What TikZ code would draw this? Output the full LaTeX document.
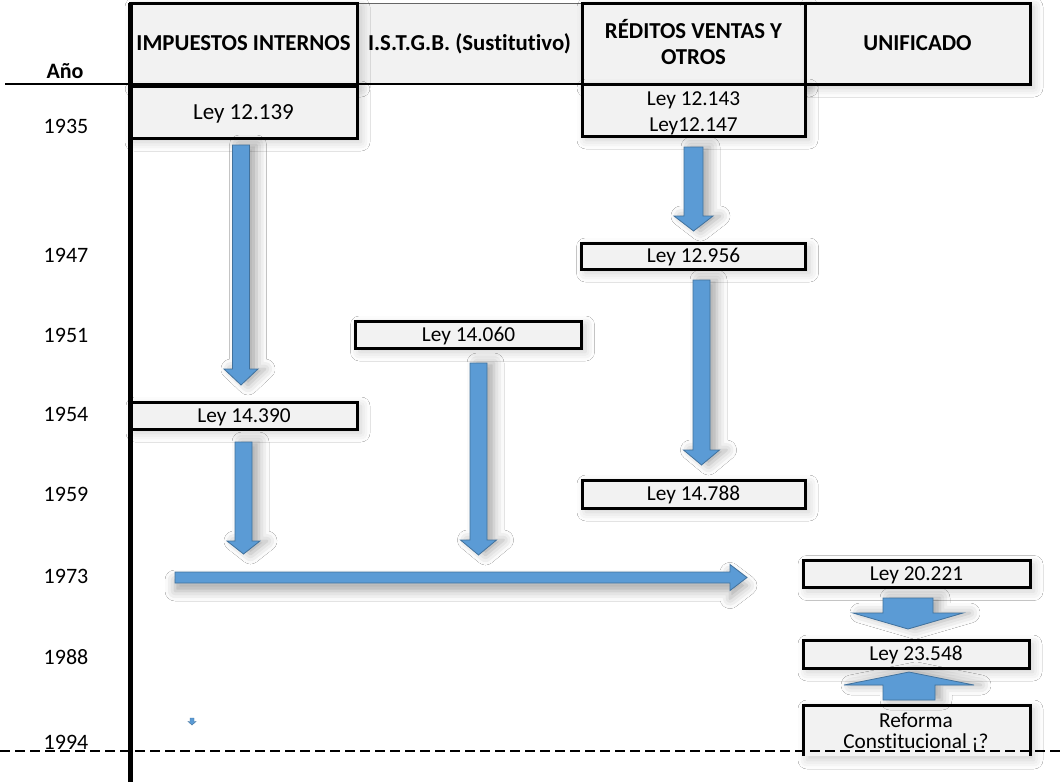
\documentclass[tikz,border=0pt]{standalone}
\usepackage{fontspec}
\setmainfont{Carlito}[Ligatures=NoCommon]
\usetikzlibrary{shadows.blur}
\definecolor{arrowfill}{HTML}{5B9BD5}
\definecolor{arrowedge}{HTML}{41719C}

% vertical block arrow: x, tail y, head-base y, tip y, shaft half width, head half width
\newcommand\vblock[6]{%
  \path[blockarrow,blur shadow={shadow xshift=7pt,shadow yshift=0pt,shadow blur radius=10pt,shadow opacity=34}]
    (#1-#5,#2) -- (#1+#5,#2) -- (#1+#5,#3) -- (#1+#6,#3) -- (#1,#4)
    -- (#1-#6,#3) -- (#1-#5,#3) -- cycle;}
% horizontal block arrow: y, tail x, head-base x, tip x, shaft half height, head half height
\newcommand\hblock[6]{%
  \path[blockarrow,blur shadow={shadow xshift=0pt,shadow yshift=-8pt,shadow blur radius=10pt,shadow opacity=34}]
    (#2,#1-#5) -- (#3,#1-#5) -- (#3,#1-#6) -- (#4,#1) -- (#3,#1+#6)
    -- (#3,#1+#5) -- (#2,#1+#5) -- cycle;}

\tikzset{
  blockarrow/.style={fill=arrowfill,draw=arrowedge,line width=0.8pt,line join=miter},
  lawbox/.style={draw=black,line width=3pt,fill=black!5,inner sep=0pt,
    font=\fontsize{21.3}{26}\selectfont,text height=13.5pt,text depth=0pt,
    blur shadow={shadow xshift=4pt,shadow yshift=-4pt,shadow blur radius=9pt,shadow opacity=20}},
  headbox/.style={lawbox,font=\bfseries\fontsize{22.8}{26}\selectfont,text height=14.4pt},
  plaintext/.style={inner sep=0pt,text height=13.5pt,text depth=0pt,font=\fontsize{21.3}{26}\selectfont},
  headtext/.style={plaintext,font=\bfseries\fontsize{22.8}{26}\selectfont,text height=14.4pt},
  yearlbl/.style={plaintext,font=\fontsize{22}{24}\selectfont,text height=13.9pt},
}

\begin{document}
\begin{tikzpicture}[x=1pt,y=-1pt]
\fill[white] (0,0) rectangle (1064,782);
\useasboundingbox (0,0) rectangle (1064,782);

% table frame
\fill[black!5] (357,3) rectangle (582,84);
\draw[black!60,line width=1pt] (130,3) -- (1030,3);
\draw[line width=2pt] (5,84) -- (1030,84);
\draw[line width=2.5pt] (357,3) -- (357,84);
\draw[line width=2.5pt] (582,3) -- (582,84);

% column headers
\node[headbox,minimum width=227pt,minimum height=81pt] (hii) at (243.5,43.5) {IMPUESTOS INTERNOS};
\node[headtext] (hist) at (469.5,43.5) {I.S.T.G.B. (Sustitutivo)};
\node[headbox,minimum width=223pt,minimum height=81pt] (hrv) at (693.5,43.5) {};
\node[headtext] (hrv1) at (693.5,31) {RÉDITOS VENTAS Y};
\node[headtext] (hrv2) at (693.5,57) {OTROS};
\node[headbox,minimum width=225pt,minimum height=81pt] (hun) at (917.5,43.5) {UNIFICADO};

% laws
\node[lawbox,minimum width=227pt,minimum height=52pt,font=\fontsize{23}{26}\selectfont,text height=14.5pt] (l12139) at (243.5,112) {Ley 12.139};
\node[lawbox,minimum width=223pt,minimum height=52pt] (l12143) at (693.5,110) {};
\node[plaintext] (l12143a) at (693.5,99) {Ley 12.143};
\node[plaintext] (l12143b) at (693.5,125) {Ley12.147};
\node[lawbox,minimum width=224pt,minimum height=26pt] (l12956) at (693.5,256) {Ley 12.956};
\node[lawbox,minimum width=226pt,minimum height=27pt] (l14060) at (468.5,334.5) {Ley 14.060};
\node[lawbox,minimum width=226pt,minimum height=27pt] (l14390) at (244,415.5) {Ley 14.390};
\node[lawbox,minimum width=223pt,minimum height=28pt] (l14788) at (693.5,494) {Ley 14.788};
\node[lawbox,minimum width=227pt,minimum height=27pt] (l20221) at (916.5,574) {Ley 20.221};
\node[lawbox,minimum width=226pt,minimum height=28pt] (l23548) at (916,654) {Ley 23.548};

% open box at the bottom of the last column
\path[fill=black!5,blur shadow={shadow xshift=4pt,shadow yshift=-4pt,shadow blur radius=9pt,shadow opacity=20}]
  (803,756) -- (803,705) -- (1030,705) -- (1030,756) -- cycle;
\draw[line width=3pt] (803,756) -- (803,705) -- (1030,705) -- (1030,756);
\node[plaintext] (reforma1) at (916,721) {Reforma};
\node[plaintext] (reforma2) at (916,742) {Constitucional ¡?};

% year axis
\draw[line width=5pt] (130,3) -- (130,782);
\node[yearlbl,font=\bfseries\fontsize{22}{24}\selectfont] (ano) at (65,72) {Año};
\node[yearlbl] (y1935) at (66,127) {1935};
\node[yearlbl] (y1947) at (66,256) {1947};
\node[yearlbl] (y1951) at (66,336) {1951};
\node[yearlbl] (y1954) at (66,415) {1954};
\node[yearlbl] (y1959) at (66,495) {1959};
\node[yearlbl] (y1973) at (66,577) {1973};
\node[yearlbl] (y1988) at (66,658) {1988};
\node[yearlbl] (y1994) at (66,743) {1994};

% block arrows
\vblock{241}{145}{369}{385}{8.5}{17}
\vblock{243.5}{442}{541}{554}{8.5}{16.5}
\vblock{693.5}{147}{216}{231}{9.5}{19.5}
\vblock{701.5}{280}{450}{465}{8.5}{18}
\vblock{478.5}{363}{540}{555}{8.5}{18}
\hblock{577.5}{175}{730}{747}{5.5}{13}
\vblock{908}{598}{613}{629}{25}{55}
\vblock{909}{700}{685}{672}{26}{65}
\path[blockarrow,line width=0.4pt] (190,718) -- (194,718) -- (194,721.5) -- (196,721.5) -- (192,725) -- (188,721.5) -- (190,721.5) -- cycle;

% cut line
\draw[line width=2.5pt,dash pattern=on 10pt off 5pt] (0,751) -- (1064,751);
\end{tikzpicture}
\end{document}
